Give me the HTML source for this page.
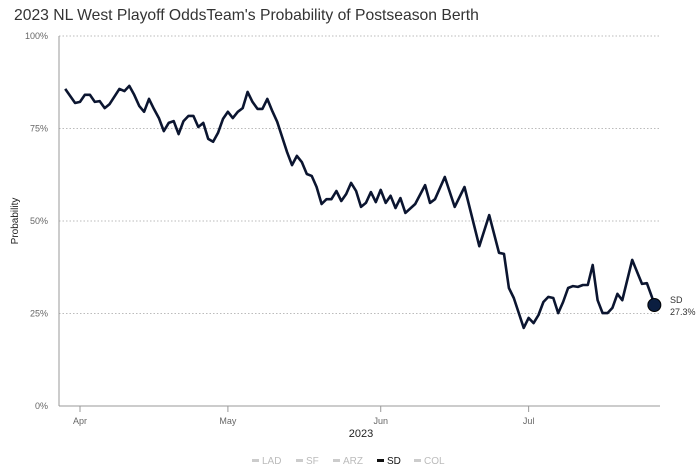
<!DOCTYPE html>
<html><head><meta charset="utf-8"><style>
body{margin:0;background:#fff;font-family:"Liberation Sans",sans-serif;}
svg{display:block}
</style></head><body>
<svg id="chart" width="700" height="467">
<text x="14" y="20" font-size="15.7" fill="#333">2023 NL West Playoff OddsTeam's Probability of Postseason Berth</text>
<g id="grid"></g><g id="axes"></g><g id="series"></g><g id="legend"></g>
<text transform="translate(18,221) rotate(-90)" text-anchor="middle" font-size="10" fill="#222">Probability</text>
<text x="361" y="437" text-anchor="middle" font-size="11" fill="#222">2023</text>
</svg>
<script>
const days=[-3,-1,0,1,2,3,4,5,6,8,9,10,11,12,13,14,15,16,17,18,19,20,21,22,23,24,25,26,27,28,29,30,31,32,33,34,35,36,37,38,39,40,42,43,44,45,46,47,48,49,50,51,52,53,54,55,56,57,58,59,60,61,62,63,64,65,66,68,70,71,72,74,76,78,81,83,85,86,87,88,90,91,92,93,94,95,96,97,98,99,100,101,102,103,104,105,106,107,108,109,110,112,114,115,116,116.5];
const sdValues=[85.7,81.9,82.2,84.1,84.1,82.2,82.4,80.5,81.6,85.7,85.1,86.5,84.1,81.1,79.5,83.0,80.3,77.8,74.3,76.5,77.0,73.5,77.0,78.4,78.4,75.4,76.5,72.2,71.4,73.8,77.6,79.5,77.8,79.5,80.5,84.9,82.2,80.3,80.3,83.0,79.7,76.8,68.6,65.1,67.6,65.9,62.7,62.2,59.2,54.6,55.9,55.9,58.1,55.4,57.3,60.3,58.1,53.8,54.9,57.8,55.1,58.4,54.9,56.8,53.5,56.2,52.2,54.6,59.7,54.9,55.9,61.9,53.8,59.2,43.2,51.6,41.4,41.1,31.9,29.2,21.1,23.8,22.4,24.6,28.1,29.5,29.2,25.1,28.1,31.9,32.4,32.2,32.7,32.7,38.1,28.6,25.1,25.1,26.5,30.3,28.6,39.5,33.0,33.2,29.5,27.3];
const yTicks=[0,25,50,75,100];
const xTickLabels=["Apr","May","Jun","Jul"];
const xTickDays=[0,30,61,91];
const legendTeams=["LAD","SF","ARZ","SD","COL"];
const NS="http://www.w3.org/2000/svg";
const X=d=>80+d*4.93, Y=v=>406-v*3.7;
function mk(t,a,p){const e=document.createElementNS(NS,t);for(const k in a)e.setAttribute(k,a[k]);document.getElementById(p).appendChild(e);return e;}
yTicks.forEach(v=>{
  if(v>0){const g=mk('line',{x1:59,x2:660,y1:Y(v),y2:Y(v),stroke:'#bbb','stroke-dasharray':'1.5,2'},'grid');
  
  }
  const t=mk('text',{x:48,y:Y(v)+3,'text-anchor':'end','font-size':9,fill:'#666'},'axes');t.textContent=v+'%';
  
  
});
const la=mk('line',{x1:59,x2:59,y1:36,y2:406,stroke:'#999'},'axes');


const ba=mk('line',{x1:59,x2:660,y1:406,y2:406,stroke:'#999'},'axes');


xTickDays.forEach((d,i)=>{
  mk('line',{x1:X(d),x2:X(d),y1:406,y2:412,stroke:'#999'},'axes');
  const t=mk('text',{x:X(d),y:424,'text-anchor':'middle','font-size':9,fill:'#666'},'axes');t.textContent=xTickLabels[i];
  
  
});
const pts=days.map((d,i)=>X(d).toFixed(1)+','+Y(sdValues[i]).toFixed(1)).join(' ');
const pl=mk('polyline',{points:pts,fill:'none',stroke:'#0b1530','stroke-width':2.6,'stroke-linejoin':'round'},'series');


const n=days.length-1;
const c=mk('circle',{cx:X(days[n]),cy:Y(sdValues[n]),r:6.5,fill:'#0b1e40',stroke:'#000','stroke-width':1},'series');


const l1=mk('text',{x:670,y:Y(sdValues[n])-2,'font-size':9,fill:'#333'},'series');l1.textContent='SD';


const l2=mk('text',{x:670,y:Y(sdValues[n])+10,'font-size':9,fill:'#333'},'series');l2.textContent=sdValues[n].toFixed(1)+'%';


let lx=252;
legendTeams.forEach(t=>{
  const on=t==='SD',col=on?'#111':'#ccc';
  const g=mk('g',{},'legend');
  
  
  const r=document.createElementNS(NS,'rect');r.setAttribute('x',lx);r.setAttribute('y',459);r.setAttribute('width',7);r.setAttribute('height',3);r.setAttribute('fill',col);g.appendChild(r);
  const tx=document.createElementNS(NS,'text');tx.setAttribute('x',lx+10);tx.setAttribute('y',464);tx.setAttribute('font-size',10);tx.setAttribute('fill',on?'#111':'#bbb');tx.textContent=t;g.appendChild(tx);
  lx+=10+t.length*7+13;
});
</script>
</body></html>
